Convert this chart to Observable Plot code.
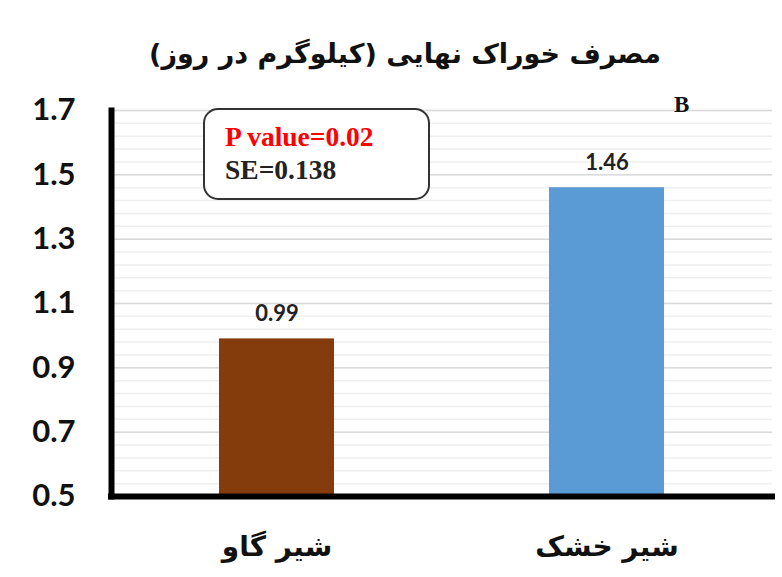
<!DOCTYPE html>
<html>
<head>
<meta charset="utf-8">
<script src="https://cdn.jsdelivr.net/npm/d3@7"></script>
<script src="https://cdn.jsdelivr.net/npm/@observablehq/plot@0.6"></script>
<style>
  html, body { margin: 0; padding: 0; background: #fff; }
  #wrap { position: relative; width: 782px; height: 577px; overflow: hidden; }
  #box {
    position: absolute; left: 203px; top: 108px; width: 223px; height: 88px;
    border: 2px solid #333; border-radius: 15px; background: #fff;
    font-family: "Liberation Serif", serif; font-weight: bold; font-size: 27.5px;
  }
  #box .p { position: absolute; left: 20px; top: 11px; color: #ff0000; white-space: nowrap; line-height: 32px; }
  #box .se { position: absolute; left: 20px; top: 44px; color: #222; white-space: nowrap; line-height: 32px; }
  #tagB { position: absolute; left: 674px; top: 92px; font-family: "Liberation Serif", serif; font-weight: bold; font-size: 23px; color: #111; }
</style>
</head>
<body>
<div id="wrap"></div>
<script>
const title = "مصرف خوراک نهایی (کیلوگرم در روز)";
const categories = ["شیر گاو", "شیر خشک"];
const values = [0.99, 1.46];
const colors = ["#843C0C", "#5B9BD5"];
const yTicks = [0.5, 0.7, 0.9, 1.1, 1.3, 1.5, 1.7];
const pValueText = "P value=0.02";
const seText = "SE=0.138";
const panelTag = "B";

const data = categories.map((c, i) => ({cat: c, value: values[i], color: colors[i]}));
const minorTicks = d3.range(0.5, 1.7001, 0.04).map(v => +v.toFixed(2));

const chart = Plot.plot({
  width: 782,
  height: 577,
  marginTop: 110,
  marginBottom: 81,
  marginLeft: 111,
  marginRight: 10,
  style: {background: "#fff", overflow: "visible"},
  x: {domain: categories, paddingInner: 0.6515, paddingOuter: 0.3258, label: null},
  y: {domain: [0.5, 1.7], label: null},
  marks: [
    Plot.ruleY(minorTicks, {stroke: "#efefef", strokeWidth: 1.5}),
    Plot.ruleY(yTicks, {stroke: "#d9d9d9", strokeWidth: 1.5}),
    Plot.barY(data, {x: "cat", y1: 0.5, y2: "value", fill: "color"}),
    Plot.text(data, {x: "cat", y: "value", text: d => d.value.toFixed(2), dy: -25,
      fontSize: 22, fontWeight: "bold", fontFamily: "Lato, sans-serif", fill: "#222"}),
    Plot.axisY({ticks: yTicks, tickSize: 0, tickPadding: 36, tickFormat: d => d.toFixed(1),
      fontSize: 31, fontWeight: "bold", fontFamily: "Lato, sans-serif", fill: "#111", label: null}),
    Plot.axisX({tickSize: 0, tickPadding: 40, fontSize: 28, fontWeight: "bold",
      fontFamily: "DejaVu Sans, sans-serif", fill: "#111", label: null}),
    Plot.ruleY([0.5], {stroke: "#000", strokeWidth: 6, strokeLinecap: "square"}),
    Plot.frame({anchor: "left", stroke: "#000", strokeWidth: 6, strokeLinecap: "square"}),
    Plot.text([title], {frameAnchor: "top", dy: -67, dx: -37, fontSize: 27, fontWeight: "bold",
      fontFamily: "DejaVu Sans, sans-serif", fill: "#111"})
  ]
});

const wrap = document.getElementById("wrap");
wrap.appendChild(chart);
const box = document.createElement("div");
box.id = "box";
box.innerHTML = `<div class="p"></div><div class="se"></div>`;
box.querySelector(".p").textContent = pValueText;
box.querySelector(".se").textContent = seText;
wrap.appendChild(box);
const tag = document.createElement("div");
tag.id = "tagB";
tag.textContent = panelTag;
wrap.appendChild(tag);
</script>
</body>
</html>
